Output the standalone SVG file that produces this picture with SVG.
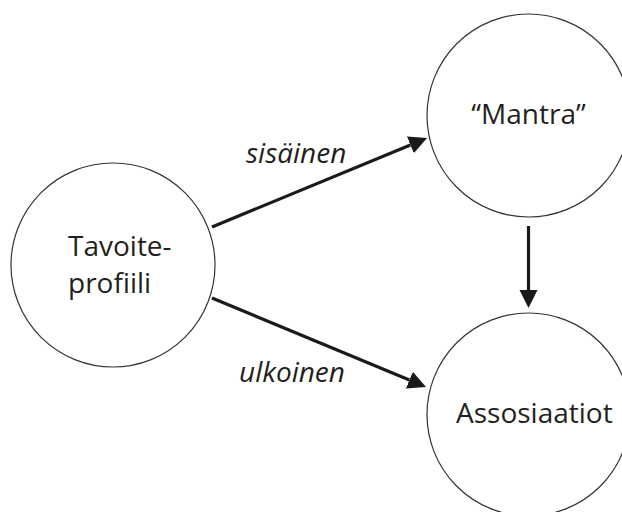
<svg xmlns="http://www.w3.org/2000/svg" width="622" height="512" viewBox="0 0 622 512">
  <style>
    .node { fill: #ffffff; stroke: #333333; stroke-width: 1.2; }
    .label { font-family: "Open Sans", "Noto Sans", sans-serif; font-size: 28px; fill: #231f20; }
    .edge-label { font-family: "Open Sans", "Noto Sans", sans-serif; font-size: 28px; font-style: italic; fill: #231f20; }
    .edge { stroke: #1a1a1a; stroke-width: 3.2; fill: none; marker-end: url(#arrow); }
  </style>
  <defs>
    <marker id="arrow" markerUnits="userSpaceOnUse" viewBox="0 -10 18 20" refX="0" refY="0" markerWidth="18" markerHeight="20" orient="auto">
      <path d="M0,-9 L18,0 L0,9 z" fill="#1a1a1a"/>
    </marker>
  </defs>
  <rect width="622" height="512" fill="#ffffff"/>
  <g id="connectors">
    <line class="edge" x1="212" y1="227" x2="410.4" y2="144.9"/>
    <line class="edge" x1="212" y1="298" x2="409.4" y2="380.1"/>
    <line class="edge" x1="528.5" y1="226" x2="528.5" y2="290"/>
    <text class="edge-label" x="246" y="163">sisäinen</text>
    <text class="edge-label" x="239" y="382">ulkoinen</text>
  </g>
  <g id="node-tavoiteprofiili">
    <circle class="node" cx="113" cy="265" r="102"/>
    <text class="label" x="68" y="256">Tavoite-</text>
    <text class="label" x="68" y="293">profiili</text>
  </g>
  <g id="node-mantra">
    <circle class="node" cx="528.5" cy="115.5" r="101.5"/>
    <text class="label" x="528.5" y="124" text-anchor="middle">“Mantra”</text>
  </g>
  <g id="node-assosiaatiot">
    <circle class="node" cx="528.5" cy="414.5" r="101.5"/>
    <text class="label" x="456" y="423">Assosiaatiot</text>
  </g>
</svg>
